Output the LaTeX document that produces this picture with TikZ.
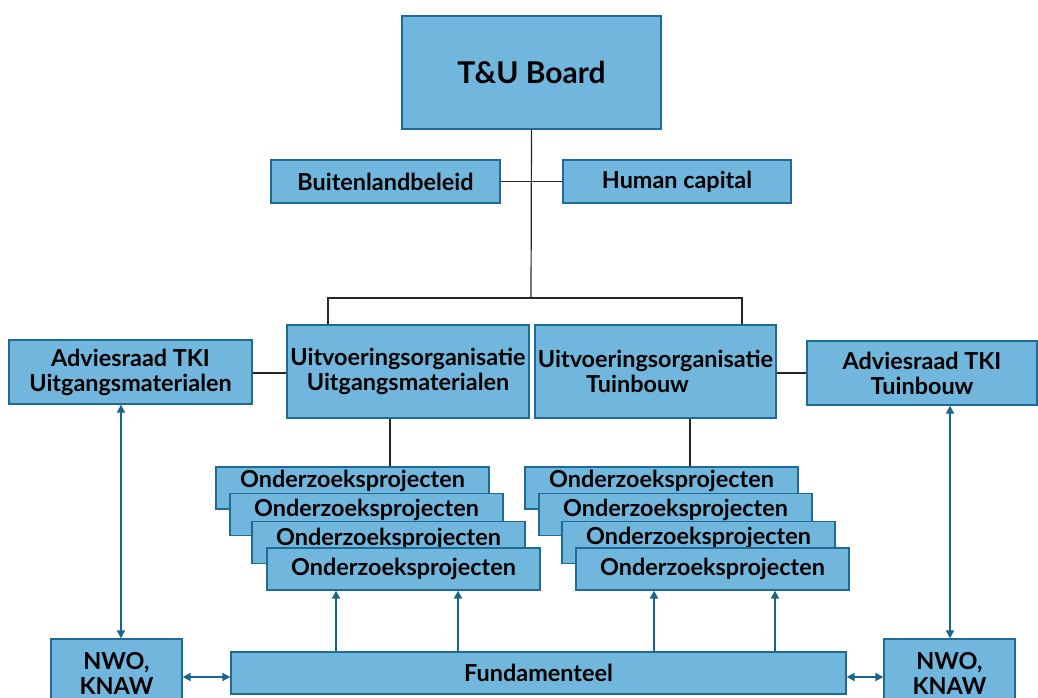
\documentclass[tikz,border=0pt]{standalone}
\usepackage{fontspec}
\setmainfont{Lato}[UprightFont=* Bold]
\usetikzlibrary{arrows.meta,calc}
\definecolor{boxfill}{RGB}{113,182,220}
\definecolor{boxline}{RGB}{30,108,150}
\definecolor{arrcol}{RGB}{22,102,142}
\newcommand{\proj}[1]{\raisebox{#1}[\height][\depth]{Onderzoeksprojecten}}
\tikzset{
  box/.style={draw=boxline, fill=boxfill, line width=1.3pt, inner sep=0pt, align=center,
    font=\fontsize{23.4}{25}\selectfont, text=black},
  conn/.style={draw=black!85, line width=1.2pt},
  arr/.style={draw=arrcol, line width=1.8pt, -{Triangle[width=8pt,length=8pt]}},
  darr/.style={draw=arrcol, line width=1.8pt, {Triangle[width=8pt,length=8pt]}-{Triangle[width=8pt,length=8pt]}},
}
\begin{document}
\begin{tikzpicture}[x=1pt,y=-1pt]
\useasboundingbox (0,0) rectangle (1038,698);
\clip (0,0) rectangle (1038,698);
% top
\node[box, minimum width=259, minimum height=113, font=\fontsize{30}{34}\selectfont] (board) at (531.5,72.5) {T\&U Board};
\node[box, minimum width=229, minimum height=43] (buit) at (385.5,181.5) {Buitenlandbeleid};
\node[box, minimum width=228, minimum height=43] (human) at (677,181.5) {Human capital};
% middle
\node[box, minimum width=242, minimum height=93] (uu) at (408,371.5) {Uitvoeringsorganisatie\\Uitgangsmaterialen};
\node[box, minimum width=241, minimum height=93] (ut) at (655.5,371.5) {Uitvoeringsorganisatie\\Tuinbouw\hspace*{36pt}};
\node[box, minimum width=243, minimum height=64] (au) at (130.5,372) {Adviesraad TKI\\Uitgangsmaterialen};
\node[box, minimum width=230, minimum height=64] (at) at (922,373) {Adviesraad TKI\\Tuinbouw};
% connectors top
\coordinate (junc) at (531,298);
\coordinate (jl) at (328,298);
\coordinate (jr) at (742,298);
\draw[conn] (board.south) -- (junc);
\draw[conn] (buit.east) -- (human.west);
\draw[conn] (jl |- uu.north) -- (jl) -- (jr) -- (jr |- ut.north);
\draw[conn] (au.east |- 0,373) -- (uu.west |- 0,373);
\draw[conn] (ut.east |- 0,373) -- (at.west |- 0,373);
% stacked boxes left
\node[box, minimum width=273, minimum height=42] (l1) at (352.5,488) {\proj{7pt}};
\node[box, minimum width=273, minimum height=42] (l2) at (366.5,514.5) {\proj{4.5pt}};
\node[box, minimum width=273, minimum height=42] (l3) at (388.5,542.5) {\proj{4pt}};
\node[box, minimum width=273, minimum height=42] (l4) at (403.5,569) {\proj{0pt}};
% stacked boxes right
\node[box, minimum width=273, minimum height=42] (r1) at (661.5,488) {\proj{7pt}};
\node[box, minimum width=273, minimum height=42] (r2) at (675.5,514.5) {\proj{4.5pt}};
\node[box, minimum width=273, minimum height=42] (r3) at (698.5,542.5) {\proj{5pt}};
\node[box, minimum width=273, minimum height=42] (r4) at (712.5,569) {\proj{0pt}};
\coordinate (xl) at (390,0);
\coordinate (xr) at (690,0);
\draw[conn] (xl |- uu.south) -- (xl |- l1.north);
\draw[conn] (xr |- ut.south) -- (xr |- r1.north);
% bottom
\node[box, minimum width=615, minimum height=42] (fund) at (538.5,673) {Fundamenteel};
\node[box, minimum width=131, minimum height=68] (nwol) at (116.5,673) {NWO,\\KNAW};
\node[box, minimum width=131, minimum height=68] (nwor) at (949.5,673) {NWO,\\KNAW};
% arrows
\coordinate (a1) at (336,0);
\coordinate (a2) at (458,0);
\coordinate (a3) at (654,0);
\coordinate (a4) at (775,0);
\draw[arr] (a1 |- fund.north) -- (a1 |- l4.south);
\draw[arr] (a2 |- fund.north) -- (a2 |- l4.south);
\draw[arr] (a3 |- fund.north) -- (a3 |- r4.south);
\draw[arr] (a4 |- fund.north) -- (a4 |- r4.south);
\coordinate (vl) at (121,0);
\coordinate (vr) at (950,0);
\draw[darr] (vl |- au.south) -- (vl |- nwol.north);
\draw[darr] (vr |- at.south) -- (vr |- nwor.north);
\coordinate (hy) at (0,677);
\draw[darr] (nwol.east |- hy) -- (fund.west |- hy);
\draw[darr] (fund.east |- hy) -- (nwor.west |- hy);
\end{tikzpicture}
\end{document}
